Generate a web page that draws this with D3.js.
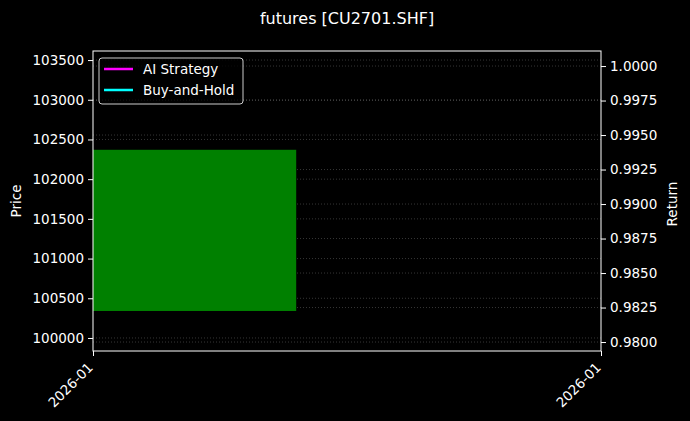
<!DOCTYPE html>
<html>
<head>
<meta charset="utf-8">
<script src="https://cdn.jsdelivr.net/npm/d3@7"></script>
<style>
  html, body { margin: 0; padding: 0; background: #000; }
  svg { display: block; font-family: "DejaVu Sans", sans-serif; }
  text { font-family: "DejaVu Sans", sans-serif; }
  .axis text { fill: #fff; font-size: 13.5px; font-family: "DejaVu Sans", sans-serif; }
  .axis line, .axis path { stroke: #fff; }
  .grid line { stroke: #888; stroke-opacity: 0.5; stroke-dasharray: 1,2; stroke-width: 0.8; }
</style>
</head>
<body>
<svg id="chart" width="690" height="421"></svg>
<script>
// data
var title = 'futures [CU2701.SHF]';
var dates = ['2026-01-05', '2026-01-06'];
var candleOpen = [100340];
var candleClose = [102370];
var candleHigh = [102370];
var candleLow = [100340];
var strategy = [1.0];
var buyHold = [1.0];
var priceTicks = [100000, 100500, 101000, 101500, 102000, 102500, 103000, 103500];
var returnTicks = [0.98, 0.9825, 0.985, 0.9875, 0.99, 0.9925, 0.995, 0.9975, 1.0];

var width = 690
	, height = 421
	, margin = {top: 51, right: 89, bottom: 70, left: 93}
	, iw = width - margin.left - margin.right
	, ih = height - margin.top - margin.bottom
	, candleWidth = 0.8
	;

var parse = d3.timeParse('%Y-%m-%d');
var days = dates.map(parse);
var day = 24 * 3600 * 1000;

var svg = d3.select('#chart');
svg.append('rect').attr('width', width).attr('height', height).attr('fill', '#000');

var x = d3.scaleTime().domain([days[0], days[days.length - 1]]).range([0, iw]);
var yPrice = d3.scaleLinear().domain([99836, 103614]).range([ih, 0]);
var yRet = d3.scaleLinear().domain([0.97935, 1.00109]).range([ih, 0]);

var plot = svg.append('g')
		.attr('transform', 'translate(' + margin.left + ',' + margin.top + ')');

plot.append('defs').append('clipPath').attr('id', 'clip')
	.append('rect').attr('width', iw).attr('height', ih);

// grid, both axes
plot.append('g').attr('class', 'grid')
	.selectAll('line').data(priceTicks)
	.enter().append('line')
		.attr('x1', 0).attr('x2', iw)
		.attr('y1', function (d) { return yPrice(d); })
		.attr('y2', function (d) { return yPrice(d); });

plot.append('g').attr('class', 'grid')
	.selectAll('line').data(returnTicks)
	.enter().append('line')
		.attr('x1', 0).attr('x2', iw)
		.attr('y1', function (d) { return yRet(d); })
		.attr('y2', function (d) { return yRet(d); });

// candles
var candles = plot.append('g').attr('clip-path', 'url(#clip)');
candles.selectAll('line').data(candleOpen)
	.enter().append('line')
		.attr('x1', function (d, i) { return x(days[i]); })
		.attr('x2', function (d, i) { return x(days[i]); })
		.attr('y1', function (d, i) { return yPrice(candleHigh[i]); })
		.attr('y2', function (d, i) { return yPrice(candleLow[i]); })
		.attr('stroke', 'green');

candles.selectAll('rect').data(candleOpen)
	.enter().append('rect')
		.attr('x', function (d, i) { return x(new Date(+days[i] - candleWidth / 2 * day)); })
		.attr('width', function (d, i) { return x(new Date(+days[i] + candleWidth / 2 * day)) - x(new Date(+days[i] - candleWidth / 2 * day)); })
		.attr('y', function (d, i) { return yPrice(Math.max(d, candleClose[i])); })
		.attr('height', function (d, i) { return Math.abs(yPrice(d) - yPrice(candleClose[i])); })
		.attr('fill', function (d, i) { return candleClose[i] >= d ? 'green' : 'red'; });

// return lines (a single point draws no visible segment)
var line = d3.line()
	.x(function (d, i) { return x(days[i]); })
	.y(function (d) { return yRet(d); });
plot.append('path').datum(strategy).attr('d', line)
	.attr('fill', 'none').attr('stroke', '#ff00ff').attr('stroke-width', 2);
plot.append('path').datum(buyHold).attr('d', line)
	.attr('fill', 'none').attr('stroke', '#00ffff').attr('stroke-width', 2);

// axes
plot.append('g').attr('class', 'axis')
	.call(d3.axisLeft(yPrice).tickValues(priceTicks).tickSize(5).tickPadding(4).tickFormat(d3.format('d')))
	.call(function (g) { g.select('.domain').remove(); });

plot.append('g').attr('class', 'axis')
	.attr('transform', 'translate(' + iw + ',0)')
	.call(d3.axisRight(yRet).tickValues(returnTicks).tickSize(5).tickPadding(4).tickFormat(d3.format('.4f')))
	.call(function (g) { g.select('.domain').remove(); });

var xAxis = plot.append('g').attr('class', 'axis')
	.attr('transform', 'translate(0,' + ih + ')')
	.call(d3.axisBottom(x).tickValues(days).tickSize(5).tickFormat(d3.timeFormat('%Y-%m')));
xAxis.select('.domain').remove();
xAxis.selectAll('text')
	.attr('text-anchor', 'end')
	.attr('dy', '0.35em')
	.attr('transform', 'translate(-3,14) rotate(-45)')
	.attr('y', 0).attr('x', 0);

plot.append('rect')
	.attr('width', iw).attr('height', ih)
	.attr('fill', 'none').attr('stroke', '#fff').attr('stroke-width', 1);

// labels
svg.append('text')
	.attr('x', margin.left + iw / 2).attr('y', 24)
	.attr('text-anchor', 'middle').attr('fill', '#fff').style('font-size', '16px')
	.text(title);

svg.append('text')
	.attr('transform', 'translate(21,' + (margin.top + ih / 2) + ') rotate(-90)')
	.attr('text-anchor', 'middle').attr('fill', '#fff').style('font-size', '13.5px')
	.text('Price');

svg.append('text')
	.attr('transform', 'translate(677,' + (margin.top + ih / 2 + 3) + ') rotate(-90)')
	.attr('text-anchor', 'middle').attr('fill', '#fff').style('font-size', '13.5px')
	.text('Return');

// legend
var legend = svg.append('g').attr('transform', 'translate(99,58)');
legend.append('rect')
	.attr('width', 144).attr('height', 46).attr('rx', 3)
	.attr('fill', '#000').attr('fill-opacity', 0.8)
	.attr('stroke', '#ccc').attr('stroke-width', 1);
var items = [{name: 'AI Strategy', color: '#ff00ff'}, {name: 'Buy-and-Hold', color: '#00ffff'}];
var item = legend.selectAll('.item').data(items)
	.enter().append('g')
		.attr('transform', function (d, i) { return 'translate(0,' + (11 + i * 21) + ')'; });
item.append('line')
	.attr('x1', 5).attr('x2', 34)
	.attr('stroke', function (d) { return d.color; }).attr('stroke-width', 2.5);
item.append('text')
	.attr('x', 44).attr('y', 0).attr('dy', '0.35em')
	.attr('fill', '#fff').style('font-size', '13.5px')
	.text(function (d) { return d.name; });
</script>
</body>
</html>
